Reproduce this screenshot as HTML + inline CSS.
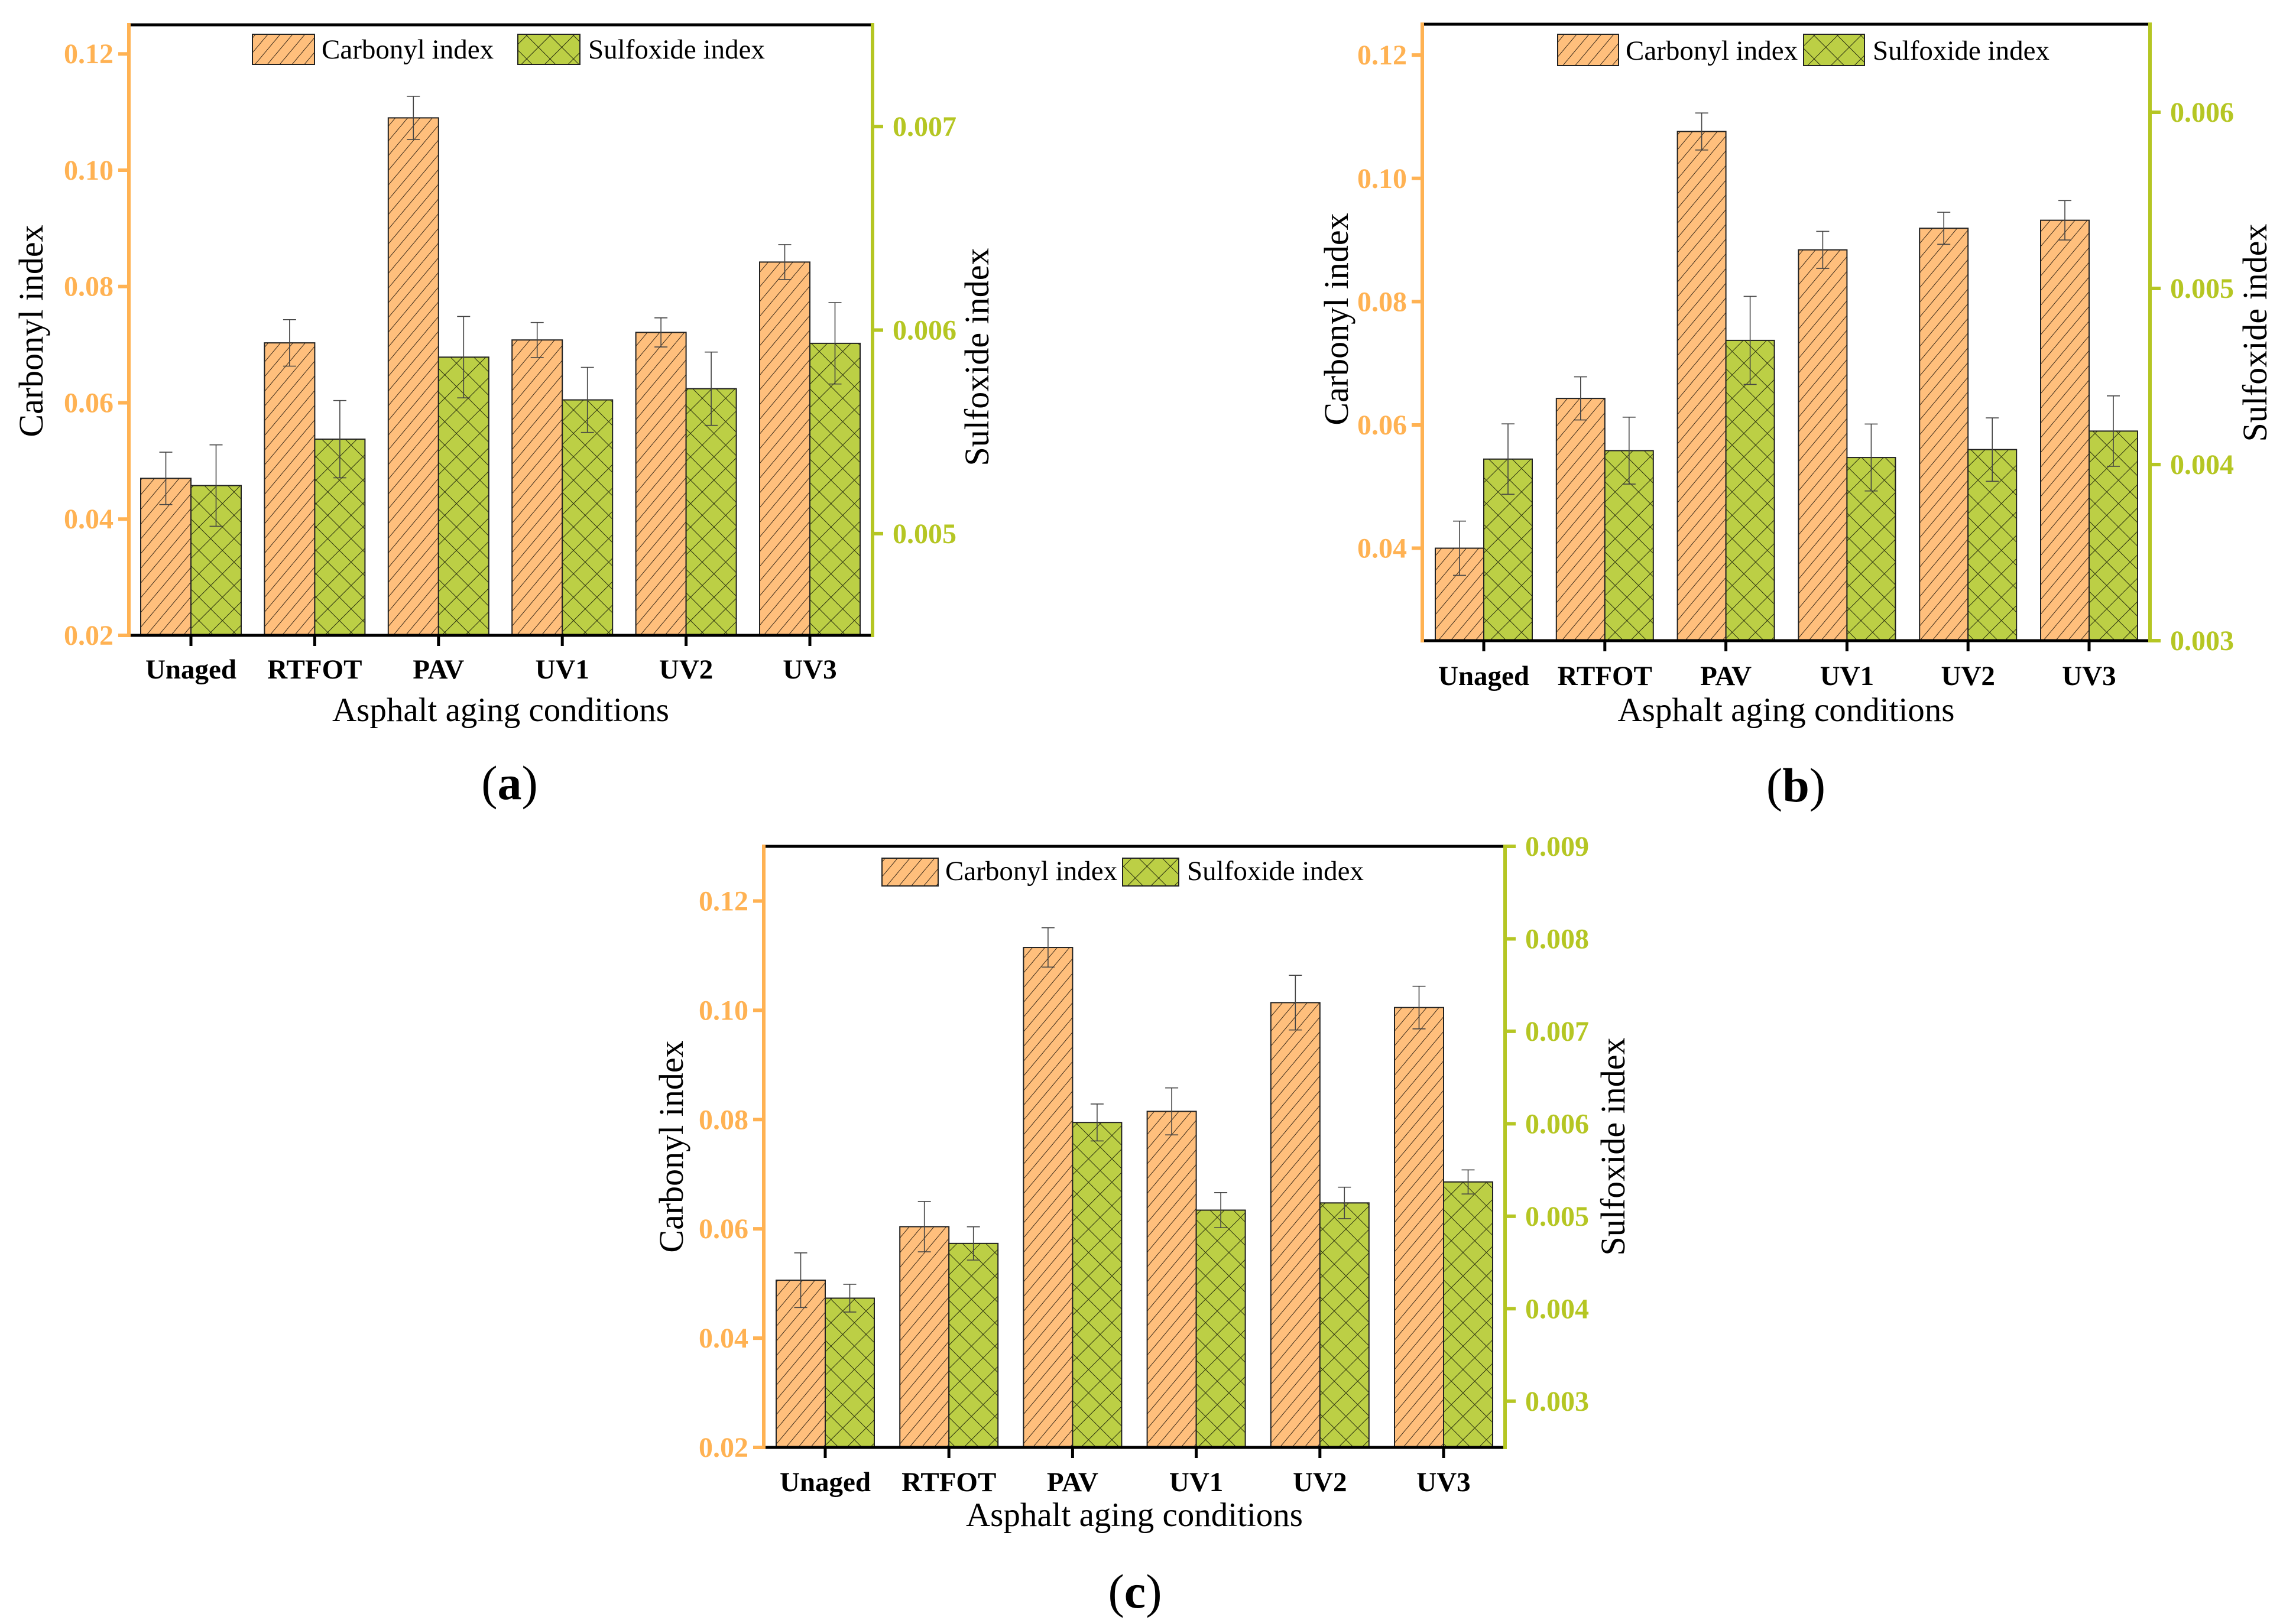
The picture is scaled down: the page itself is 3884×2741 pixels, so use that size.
<!DOCTYPE html>
<html><head><meta charset="utf-8">
<style>
html,body{margin:0;padding:0;background:#fff;}
svg{display:block;font-family:"Liberation Serif","DejaVu Serif",serif;}
svg text{font-family:"Liberation Serif","DejaVu Serif",serif;}
</style></head>
<body>
<svg id="fig" width="3884" height="2741" viewBox="0 0 3884 2741" xmlns="http://www.w3.org/2000/svg">
<defs>
<pattern id="hatchO" patternUnits="userSpaceOnUse" width="16" height="16" patternTransform="rotate(40)">
<rect width="16" height="16" fill="#ffbf7c"/>
<line x1="0" y1="0" x2="0" y2="16" stroke="#3a2a1a" stroke-width="2"/>
</pattern>
<pattern id="hatchG" patternUnits="userSpaceOnUse" width="28" height="28" patternTransform="rotate(45)">
<rect width="28" height="28" fill="#bccf45"/>
<line x1="0" y1="0" x2="0" y2="28" stroke="#2a3010" stroke-width="2"/>
<line x1="0" y1="0" x2="28" y2="0" stroke="#2a3010" stroke-width="2"/>
</pattern>
</defs>
</svg>
<script>
const categories = ["Unaged","RTFOT","PAV","UV1","UV2","UV3"];
const carbonylA = [0.047,0.0703,0.109,0.0708,0.0721,0.0842];
const carbonylErrA = [0.0045,0.0040,0.0037,0.0030,0.0025,0.0030];
const sulfoxideA = [0.005236,0.005464,0.005867,0.005657,0.005712,0.005935];
const sulfoxideErrA = [0.00020,0.00019,0.00020,0.00016,0.00018,0.00020];
const carbonylB = [0.0400,0.0643,0.1076,0.0884,0.0919,0.0932];
const carbonylErrB = [0.0044,0.0035,0.0030,0.0030,0.0026,0.0032];
const sulfoxideB = [0.004031,0.004079,0.004705,0.004040,0.004085,0.004190];
const sulfoxideErrB = [0.00020,0.00019,0.00025,0.00019,0.00018,0.00020];
const carbonylC = [0.0506,0.0604,0.1115,0.0815,0.1014,0.1005];
const carbonylErrC = [0.0050,0.0046,0.0036,0.0043,0.0050,0.0039];
const sulfoxideC = [0.004114,0.004706,0.006014,0.005066,0.005144,0.005371];
const sulfoxideErrC = [0.00015,0.00018,0.00020,0.00019,0.00017,0.00013];
const leftTicksA = ["0.02","0.04","0.06","0.08","0.10","0.12"];
const rightTicksA = ["0.005","0.006","0.007"];
const leftTicksB = ["0.04","0.06","0.08","0.10","0.12"];
const rightTicksB = ["0.003","0.004","0.005","0.006"];
const leftTicksC = ["0.02","0.04","0.06","0.08","0.10","0.12"];
const rightTicksC = ["0.003","0.004","0.005","0.006","0.007","0.008","0.009"];

const NS="http://www.w3.org/2000/svg";
const svg=document.getElementById('fig');
const ORANGE="#ffb253", GREEN="#b5c623";
const FONT='Liberation Serif, DejaVu Serif, serif';
function mk(tag,attrs,parent){const e=document.createElementNS(NS,tag);for(const k in attrs)e.setAttribute(k,attrs[k]);if(tag==='text')e.setAttribute('font-family',FONT);(parent||svg).appendChild(e);return e;}

function panel(p){
  const g=mk('g',{});
  
  
  const yL=v=>p.bottom-(v-p.lMin)/(p.lMax-p.lMin)*(p.bottom-p.top);
  const yR=v=>p.bottom-(v-p.rMin)/(p.rMax-p.rMin)*(p.bottom-p.top);
  const xC=i=>p.x0+i*p.step;
  for(let i=0;i<categories.length;i++){
    const cx=xC(i);
    const yc=yL(p.carb[i]);
    const b1=mk('rect',{x:cx-p.bw,y:yc,width:p.bw,height:p.bottom-yc,fill:'url(#hatchO)',stroke:'#222','stroke-width':2},g);
    
    
    const ys=yR(p.sulf[i]);
    const b2=mk('rect',{x:cx,y:ys,width:p.bw,height:p.bottom-ys,fill:'url(#hatchG)',stroke:'#222','stroke-width':2},g);
    
    
    const ex1=cx-p.bw/2, t1=yL(p.carb[i]+p.carbErr[i]), u1=yL(p.carb[i]-p.carbErr[i]);
    const e1=mk('path',{d:`M${ex1},${t1}V${u1}M${ex1-11},${t1}H${ex1+11}M${ex1-11},${u1}H${ex1+11}`,stroke:'#444','stroke-width':1.6,fill:'none'},g);
    
    
    const ex2=cx+p.bw/2, t2=yR(p.sulf[i]+p.sulfErr[i]), u2=yR(p.sulf[i]-p.sulfErr[i]);
    const e2=mk('path',{d:`M${ex2},${t2}V${u2}M${ex2-11},${t2}H${ex2+11}M${ex2-11},${u2}H${ex2+11}`,stroke:'#444','stroke-width':1.6,fill:'none'},g);
    
    
    mk('line',{x1:cx,y1:p.bottom,x2:cx,y2:p.bottom+18,stroke:'#000','stroke-width':5},g);
    const t=mk('text',{x:cx,y:p.catY,'text-anchor':'middle','font-size':47,'font-weight':'bold',fill:'#000'},g);
    t.textContent=categories[i];
    
    
  }
  mk('line',{x1:p.left,y1:p.top,x2:p.right,y2:p.top,stroke:'#000','stroke-width':5},g);
  mk('line',{x1:p.left,y1:p.bottom,x2:p.right,y2:p.bottom,stroke:'#000','stroke-width':5},g);
  const la=mk('line',{x1:p.left,y1:p.top-3,x2:p.left,y2:p.bottom+3,stroke:ORANGE,'stroke-width':6},g);
  
  
  const ra=mk('line',{x1:p.right,y1:p.top-3,x2:p.right,y2:p.bottom+3,stroke:GREEN,'stroke-width':6},g);
  
  
  p.lTicks.forEach(s=>{const y=yL(parseFloat(s));
    mk('line',{x1:p.left-18,y1:y,x2:p.left,y2:y,stroke:ORANGE,'stroke-width':6},g);
    const t=mk('text',{x:p.left-26,y:y+16,'text-anchor':'end','font-size':48,'font-weight':'bold',fill:ORANGE},g);
    t.textContent=s;
    
    });
  p.rTicks.forEach(s=>{const y=yR(parseFloat(s));
    mk('line',{x1:p.right,y1:y,x2:p.right+18,y2:y,stroke:GREEN,'stroke-width':6},g);
    const t=mk('text',{x:p.right+34,y:y+16,'text-anchor':'start','font-size':48,'font-weight':'bold',fill:GREEN},g);
    t.textContent=s;
    
    });
  const lt=mk('text',{x:0,y:0,transform:`translate(${p.ltX},${p.ltY}) rotate(-90)`,'text-anchor':'middle','font-size':58,fill:'#000'},g);
  lt.textContent='Carbonyl index';
  
  
  const rt=mk('text',{x:0,y:0,transform:`translate(${p.rtX},${p.rtY}) rotate(-90)`,'text-anchor':'middle','font-size':58,fill:'#000'},g);
  rt.textContent='Sulfoxide index';
  
  
  const xt=mk('text',{x:(p.left+p.right)/2,y:p.xtY,'text-anchor':'middle','font-size':57,fill:'#000'},g);
  xt.textContent='Asphalt aging conditions';
  
  
  const pl=mk('text',{x:p.plX,y:p.plY,'text-anchor':'middle','font-size':82,fill:'#000'},g);
  pl.innerHTML='(<tspan font-weight="bold">'+p.id+'</tspan>)';
  
  
  const lg=mk('g',{},g);
  
  
  mk('rect',{x:p.lg1,y:p.lgY,width:p.lgW,height:p.lgH,fill:'url(#hatchO)',stroke:'#222','stroke-width':2},lg);
  const l1=mk('text',{x:p.lg1+p.lgW+12,y:p.lgY+p.lgH-10,'font-size':47,fill:'#000'},lg);
  l1.textContent='Carbonyl index';
  
  
  mk('rect',{x:p.lg2,y:p.lgY,width:p.lgW,height:p.lgH,fill:'url(#hatchG)',stroke:'#222','stroke-width':2},lg);
  const l2=mk('text',{x:p.lg2+p.lgW+14,y:p.lgY+p.lgH-10,'font-size':47,fill:'#000'},lg);
  l2.textContent='Sulfoxide index';
  
  
}

panel({id:'a',left:218,right:1476,top:42,bottom:1075,lMin:0.02,lMax:0.125,rMin:0.0045,rMax:0.0075,
  x0:323,step:209.4,bw:85,carb:carbonylA,carbErr:carbonylErrA,sulf:sulfoxideA,sulfErr:sulfoxideErrA,
  lTicks:leftTicksA,rTicks:rightTicksA,catY:1148,xtY:1220,ltX:72,ltY:560,rtX:1672,rtY:604,plX:862,plY:1352,
  lg1:427,lg2:876,lgY:58,lgW:105,lgH:51});
panel({id:'b',left:2406,right:3637,top:41,bottom:1084,lMin:0.025,lMax:0.125,rMin:0.003,rMax:0.0065,
  x0:2510,step:204.8,bw:82,carb:carbonylB,carbErr:carbonylErrB,sulf:sulfoxideB,sulfErr:sulfoxideErrB,
  lTicks:leftTicksB,rTicks:rightTicksB,catY:1159,xtY:1220,ltX:2280,ltY:540,rtX:3834,rtY:563,plX:3038,plY:1356,
  lg1:2635,lg2:3051,lgY:58,lgW:103,lgH:53});
panel({id:'c',left:1292,right:2546,top:1432,bottom:2449,lMin:0.02,lMax:0.13,rMin:0.0025,rMax:0.009,
  x0:1396,step:209.2,bw:83,carb:carbonylC,carbErr:carbonylErrC,sulf:sulfoxideC,sulfErr:sulfoxideErrC,
  lTicks:leftTicksC,rTicks:rightTicksC,catY:2523,xtY:2582,ltX:1155,ltY:1940,rtX:2748,rtY:1940,plX:1920,plY:2720,
  lg1:1492,lg2:1899,lgY:1452,lgW:95,lgH:47});
</script>
</body></html>
